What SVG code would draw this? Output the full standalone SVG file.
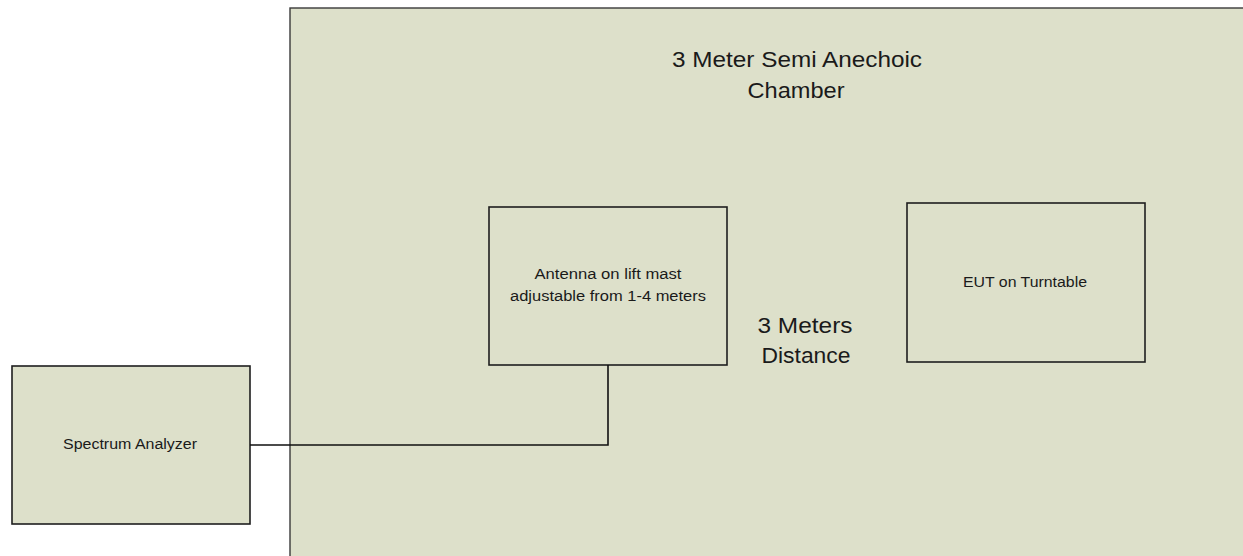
<svg xmlns="http://www.w3.org/2000/svg" width="1243" height="556" viewBox="0 0 1243 556">
  <style>
    .box { fill: #dde0ca; stroke: #1e1e1e; stroke-width: 1.6; }
    .chamber { fill: #dde0ca; stroke: #3a3a3a; stroke-width: 1.4; }
    .lbl { font-family: "Liberation Sans", Arial, sans-serif; fill: #1a1a1a; text-anchor: middle; }
    .big { font-size: 22px; }
    .small { font-size: 14px; }
    .wire { fill: none; stroke: #111; stroke-width: 1.6; }
  </style>
  <rect width="1243" height="556" fill="#ffffff"/>
  <g id="chamber">
    <rect class="chamber" x="290" y="8" width="970" height="560"/>
    <text class="lbl big" x="797" y="67" textLength="250" lengthAdjust="spacingAndGlyphs">3 Meter Semi Anechoic</text>
    <text class="lbl big" x="796" y="98" textLength="97" lengthAdjust="spacingAndGlyphs">Chamber</text>
  </g>
  <g id="distance-label">
    <text class="lbl big" x="805" y="333" textLength="95" lengthAdjust="spacingAndGlyphs">3 Meters</text>
    <text class="lbl big" x="806" y="363" textLength="89" lengthAdjust="spacingAndGlyphs">Distance</text>
  </g>
  <g id="antenna">
    <rect class="box" x="489" y="207" width="238" height="158"/>
    <text class="lbl small" x="608" y="279" textLength="147" lengthAdjust="spacingAndGlyphs">Antenna on lift mast</text>
    <text class="lbl small" x="608" y="301" textLength="196" lengthAdjust="spacingAndGlyphs">adjustable from 1-4 meters</text>
  </g>
  <g id="eut">
    <rect class="box" x="907" y="203" width="238" height="159"/>
    <text class="lbl small" x="1025" y="287" textLength="124" lengthAdjust="spacingAndGlyphs">EUT on Turntable</text>
  </g>
  <g id="spectrum-analyzer">
    <rect class="box" x="12" y="366" width="238" height="158"/>
    <text class="lbl small" x="130" y="449" textLength="134" lengthAdjust="spacingAndGlyphs">Spectrum Analyzer</text>
  </g>
  <g id="connectors">
    <polyline class="wire" points="608,365 608,445 250,445"/>
  </g>
</svg>
